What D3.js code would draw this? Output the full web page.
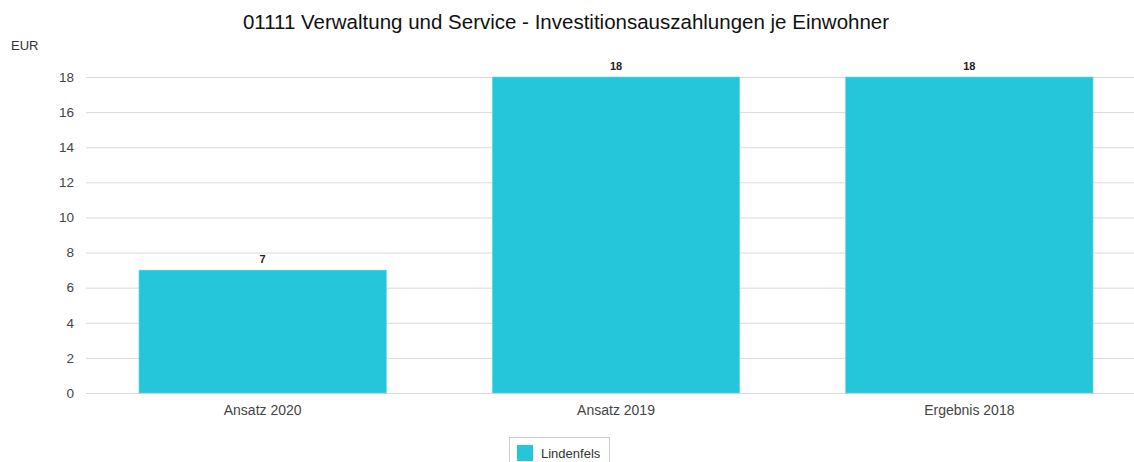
<!DOCTYPE html>
<html><head><meta charset="utf-8">
<script src="https://cdn.jsdelivr.net/npm/d3@7"></script>
<style>body{margin:0;background:#fff;}svg{display:block;font-family:"Liberation Sans",Arial,sans-serif;}</style>
</head><body>
<svg id="c" width="1134" height="462"></svg>
<script>
const categories = ["Ansatz 2020", "Ansatz 2019", "Ergebnis 2018"];
const values = [7, 18, 18];
const yTicks = [0, 2, 4, 6, 8, 10, 12, 14, 16, 18];
const seriesName = "Lindenfels";
const title = "01111 Verwaltung und Service - Investitionsauszahlungen je Einwohner";
const unit = "EUR";

const svg = d3.select("#c");
const color = "#26C6DA";
const x0 = 86, x1 = 1146, yTop = 77, yBot = 393;
const x = d3.scaleBand().domain(categories).range([x0, x1]).paddingInner(0.3).paddingOuter(0.15);
const y = d3.scaleLinear().domain([0, 18]).range([yBot, yTop]);

svg.append("text").attr("x", 566).attr("y", 29).attr("text-anchor", "middle")
  .attr("font-size", 20.5).attr("fill", "#111").text(title);
svg.append("text").attr("x", 11).attr("y", 50).attr("font-size", 13).attr("fill", "#333").text(unit);

const yAxis = svg.append("g").attr("transform", `translate(${x0},0)`)
  .call(d3.axisLeft(y).tickValues(yTicks).tickSize(-(x1 - x0)).tickPadding(12));
yAxis.select(".domain").remove();
yAxis.selectAll(".tick line").attr("stroke", "#d9d9d9").attr("stroke-width", 1);
yAxis.selectAll(".tick text").attr("font-size", 13.5).attr("fill", "#444").attr("font-family", "Liberation Sans, Arial, sans-serif");

svg.append("g").selectAll("rect").data(values).join("rect")
  .attr("x", (d, i) => x(categories[i])).attr("width", x.bandwidth())
  .attr("y", d => y(d)).attr("height", d => yBot - y(d))
  .attr("fill", color).attr("stroke", "#5fd8e6").attr("stroke-width", 0.6);

svg.append("g").selectAll("text").data(values).join("text")
  .attr("x", (d, i) => x(categories[i]) + x.bandwidth() / 2).attr("y", d => y(d) - 7)
  .attr("text-anchor", "middle").attr("font-size", 11).attr("font-weight", "bold").attr("fill", "#222")
  .text(d => d);

const xAxis = svg.append("g").attr("transform", `translate(0,${yBot})`)
  .call(d3.axisBottom(x).tickSize(0).tickPadding(12));
xAxis.select(".domain").remove();
xAxis.selectAll(".tick text").attr("font-size", 14).attr("fill", "#444").attr("font-family", "Liberation Sans, Arial, sans-serif");

const lg = svg.append("g");
lg.append("rect").attr("x", 509.5).attr("y", 437.5).attr("width", 100).attr("height", 30)
  .attr("fill", "#fff").attr("stroke", "#ccc");
lg.append("rect").attr("x", 517).attr("y", 445).attr("width", 16).attr("height", 16).attr("fill", color);
lg.append("text").attr("x", 541).attr("y", 458).attr("font-size", 13).attr("fill", "#333").text(seriesName);
</script>
</body></html>
